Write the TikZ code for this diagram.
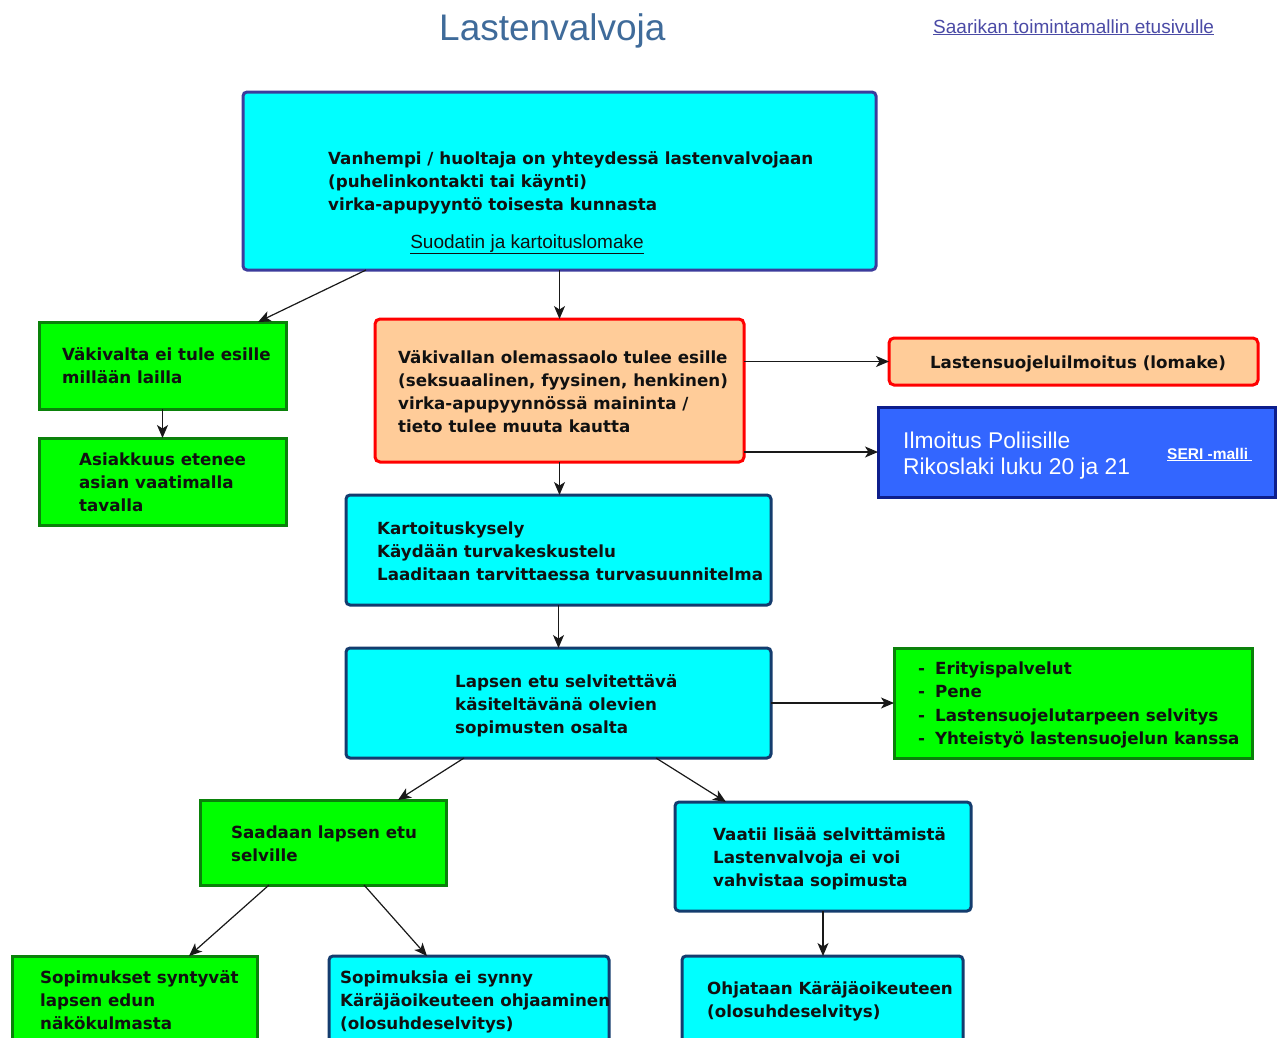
\documentclass[tikz,border=0pt]{standalone}
\usepackage{fontspec}
\setmainfont{DejaVu Sans}
\newfontfamily\arialfont{Liberation Sans}
\usetikzlibrary{arrows.meta}
\definecolor{cyanfill}{HTML}{00FFFF}
\definecolor{topborder}{HTML}{3C3C9C}
\definecolor{cyanborder}{HTML}{143C6E}
\definecolor{greenfill}{HTML}{00FF00}
\definecolor{greenborder}{HTML}{0A820A}
\definecolor{orangefill}{HTML}{FFCC99}
\definecolor{redborder}{HTML}{FF0000}
\definecolor{bluefill}{HTML}{3366FF}
\definecolor{blueborder}{HTML}{0D1E8C}
\definecolor{txt}{HTML}{111111}
\definecolor{titlecol}{HTML}{3F6B9A}
\definecolor{linkcol}{HTML}{4B4BA6}
\newcommand\Lns[1]{\begin{tabular}[t]{@{}l@{}}#1\end{tabular}}
\newcommand\boxat[6]{\node[#1, anchor=north west, minimum width=#5pt-#3pt, minimum height=#6pt-#4pt] (#2) at (#3,#4) {};}
\begin{document}
\begin{tikzpicture}[x=1pt,y=-1pt,
  basebox/.style={line width=3pt, inner sep=0pt, outer sep=0pt},
  topbox/.style={basebox, draw=topborder, fill=cyanfill, rounded corners=4pt},
  cyanbox/.style={basebox, draw=cyanborder, fill=cyanfill, rounded corners=4pt},
  greenbox/.style={basebox, draw=greenborder, fill=greenfill},
  orangebox/.style={basebox, draw=redborder, fill=orangefill, rounded corners=5pt},
  bluebox/.style={basebox, draw=blueborder, fill=bluefill},
  btext/.style={anchor=base west, inner sep=0pt, text=txt, font=\bfseries\fontsize{16.7}{23}\selectfont},
  arr/.style={-{Stealth[length=13pt,width=11pt,inset=3.5pt]}, line width=1.2pt, black!90}]
\clip (0,0) rectangle (1279,1037);
\fill[white] (0,0) rectangle (1279,1037);

% title and link
\node[anchor=base west, inner sep=0pt, text=titlecol, font=\arialfont\fontsize{37}{40}\selectfont] (title) at (439,40) {Lastenvalvoja};
\node[anchor=base west, inner sep=0pt, text=linkcol, font=\arialfont\fontsize{19}{22}\selectfont] (front) at (933,33) {\underline{Saarikan toimintamallin etusivulle}};

% boxes
\boxat{topbox}{top}{243}{92}{876}{270}
\boxat{greenbox}{ga}{39}{322}{286}{409}
\boxat{greenbox}{gb}{39}{438}{286}{525}
\boxat{orangebox}{or}{375}{319}{744}{462}
\boxat{orangebox}{lsi}{889}{338}{1258}{385}
\boxat{bluebox}{pol}{878}{407}{1275}{497}
\boxat{cyanbox}{kart}{346}{495}{771}{605}
\boxat{cyanbox}{etu}{346}{648}{771}{758}
\boxat{greenbox}{list}{894}{648}{1252}{758}
\boxat{greenbox}{saa}{200}{800}{446}{885}
\boxat{cyanbox}{vaa}{675}{802}{971}{911}
\boxat{greenbox}{syn}{12}{956}{257}{1050}
\boxat{cyanbox}{eis}{329}{956}{609}{1050}
\boxat{cyanbox}{ohj}{682}{956}{963}{1050}

% texts
\node[btext] (top-t) at (328,164) {\Lns{Vanhempi / huoltaja on yhteydessä lastenvalvojaan\\(puhelinkontakti tai käynti)\\virka-apupyyntö toisesta kunnasta}};
\node[anchor=base, inner sep=0pt, text=txt, font=\arialfont\fontsize{19}{22}\selectfont] (top-l) at (527,248) {\underline{Suodatin ja kartoituslomake}};
\node[btext] (ga-t) at (62,360) {\Lns{Väkivalta ei tule esille\\millään lailla}};
\node[btext] (gb-t) at (79,465) {\Lns{Asiakkuus etenee\\asian vaatimalla\\tavalla}};
\node[btext] (or-t) at (398,363) {\Lns{Väkivallan olemassaolo tulee esille\\(seksuaalinen, fyysinen, henkinen)\\virka-apupyynnössä maininta /\\tieto tulee muuta kautta}};
\node[btext, anchor=base] (lsi-t) at (1078,368) {Lastensuojeluilmoitus (lomake)};
\node[anchor=base west, inner sep=0pt, text=white, font=\arialfont\fontsize{22.8}{26}\selectfont] (pol-t) at (903,448) {\Lns{Ilmoitus Poliisille\\Rikoslaki luku 20 ja 21}};
\node[anchor=base west, inner sep=0pt, text=white, font=\arialfont\bfseries\fontsize{15.5}{18}\selectfont] (pol-l) at (1167,459) {\underline{SERI -malli\ }};
\node[btext] (kart-t) at (377,534) {\Lns{Kartoituskysely\\Käydään turvakeskustelu\\Laaditaan tarvittaessa turvasuunnitelma}};
\node[btext] (etu-t) at (455,687) {\Lns{Lapsen etu selvitettävä\\käsiteltävänä olevien\\sopimusten osalta}};
\node[btext] (list-t) at (918,674) {\fontsize{16.7}{23.6}\selectfont\begin{tabular}[t]{@{}l@{\hspace{10pt}}l@{}}-&Erityispalvelut\\-&Pene\\-&Lastensuojelutarpeen selvitys\\-&Yhteistyö lastensuojelun kanssa\end{tabular}};
\node[btext] (saa-t) at (231,838) {\Lns{Saadaan lapsen etu\\selville}};
\node[btext] (vaa-t) at (713,840) {\Lns{Vaatii lisää selvittämistä\\Lastenvalvoja ei voi\\vahvistaa sopimusta}};
\node[btext] (syn-t) at (40,983) {\Lns{Sopimukset syntyvät\\lapsen edun\\näkökulmasta}};
\begin{scope}
\clip (329,956) rectangle (608,1040);
\node[btext] (eis-t) at (340,983) {\Lns{Sopimuksia ei synny\\Käräjäoikeuteen ohjaaminen\\(olosuhdeselvitys)}};
\end{scope}
\node[btext] (ohj-t) at (707,994) {\Lns{Ohjataan Käräjäoikeuteen\\(olosuhdeselvitys)}};

% connectors
\draw[arr] ([xshift=-193.5pt]top.south) -- ([xshift=95.5pt]ga.north);
\draw[arr] (top.south) -- (top.south |- or.north);
\draw[arr] (ga.south) -- (gb.north);
\draw[arr] (or.east |- lsi.west) -- (lsi.west);
\draw[arr] (or.east |- pol.west) -- (pol.west);
\draw[arr] (or.south) -- (or.south |- kart.north);
\draw[arr] (kart.south) -- (etu.north);
\draw[arr] (etu.east) -- (list.west);
\draw[arr] ([xshift=-94.5pt]etu.south) -- ([xshift=75pt]saa.north);
\draw[arr] ([xshift=97.5pt]etu.south) -- ([xshift=-97pt]vaa.north);
\draw[arr] ([xshift=-54pt]saa.south) -- ([xshift=54.5pt]syn.north);
\draw[arr] ([xshift=41pt]saa.south) -- ([xshift=-42pt]eis.north);
\draw[arr] (vaa.south) -- (vaa.south |- ohj.north);
\end{tikzpicture}
\end{document}
